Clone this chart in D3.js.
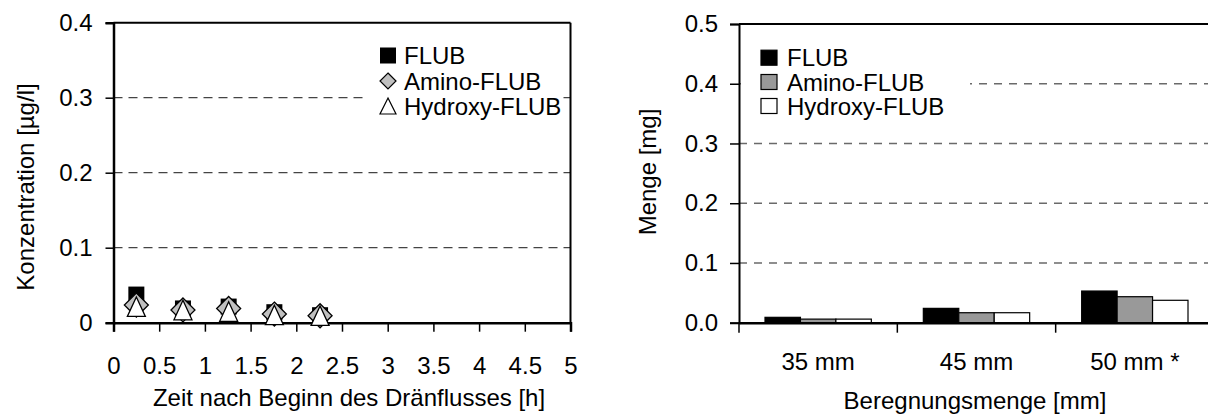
<!DOCTYPE html>
<html>
<head>
<meta charset="utf-8">
<script src="https://cdn.jsdelivr.net/npm/d3@7"></script>
<style>
  body { margin: 0; background: #fff; }
  svg { display: block; font-family: "Liberation Sans", Arial, sans-serif; }
  .axis text { font-size: 24px; fill: #000; }
  .axis path, .axis line { stroke: #000; }
</style>
</head>
<body>
<svg id="chart" width="1208" height="417"></svg>
<script>
// left chart: concentration over time
var timeHours = [0.25, 0.76, 1.26, 1.76, 2.26];
var flubConc = [0.0375, 0.019, 0.0215, 0.014, 0.010];
var aminoConc = [0.0235, 0.017, 0.019, 0.0115, 0.0093];
var hydroxyConc = [0.021, 0.0165, 0.0145, 0.010, 0.009];
var xTicksLeft = [0, 0.5, 1, 1.5, 2, 2.5, 3, 3.5, 4, 4.5, 5];
var yTicksLeft = [0, 0.1, 0.2, 0.3, 0.4];

// right chart: amounts per irrigation
var categories = ['35 mm', '45 mm', '50 mm *'];
var flubMenge = [0.009, 0.024, 0.053];
var aminoMenge = [0.006, 0.0167, 0.0435];
var hydroxyMenge = [0.006, 0.0167, 0.0375];
var yTicksRight = [0, 0.1, 0.2, 0.3, 0.4, 0.5];
var seriesNames = ['FLUB', 'Amino-FLUB', 'Hydroxy-FLUB'];

var svg = d3.select('#chart');

// ---------- left ----------
var xL = d3.scaleLinear().domain([0, 5]).range([113.5, 570.5]);
var yL = d3.scaleLinear().domain([0, 0.4]).range([322.7, 22.7]);

var gL = svg.append('g');

// grid
gL.selectAll('.gridL').data(yTicksLeft.filter(function (d) { return d > 0 && d < 0.4; }))
  .enter().append('line')
  .attr('x1', xL(0)).attr('x2', xL(5))
  .attr('y1', function (d) { return yL(d); }).attr('y2', function (d) { return yL(d); })
  .attr('stroke', '#444').attr('stroke-width', 1.3).attr('stroke-dasharray', '9,6');

// frame top / right
gL.append('line').attr('x1', xL(0)).attr('x2', xL(5)).attr('y1', yL(0.4)).attr('y2', yL(0.4))
  .attr('stroke', '#000').attr('stroke-width', 2);
gL.append('line').attr('x1', xL(5)).attr('x2', xL(5)).attr('y1', yL(0.4)).attr('y2', yL(0))
  .attr('stroke', '#000').attr('stroke-width', 2);

var axL = gL.append('g').attr('class', 'axis').attr('transform', 'translate(' + xL(0) + ',0)')
  .call(d3.axisLeft(yL).tickValues(yTicksLeft).tickSize(8).tickPadding(13).tickFormat(d3.format('')));
axL.select('.domain').attr('stroke-width', 2.5);
axL.selectAll('.tick line').attr('stroke-width', 1.5);

var axB = gL.append('g').attr('class', 'axis').attr('transform', 'translate(0,' + yL(0) + ')')
  .call(d3.axisBottom(xL).tickValues(xTicksLeft).tickSize(9).tickPadding(25).tickFormat(d3.format('')));
axB.select('.domain').attr('stroke-width', 2.5);
axB.selectAll('.tick line').attr('stroke-width', 1.5);

// markers
var pts = timeHours.map(function (t, i) {
  return { t: t, f: flubConc[i], a: aminoConc[i], h: hydroxyConc[i] };
});
var sq = 16, dia = 12, tri = 10;
gL.selectAll('.flub').data(pts).enter().append('rect')
  .attr('x', function (d) { return xL(d.t) - sq / 2; })
  .attr('y', function (d) { return yL(d.f) - sq / 2; })
  .attr('width', sq).attr('height', sq).attr('fill', '#000');
gL.selectAll('.amino').data(pts).enter().append('path')
  .attr('d', function (d) {
    var x = xL(d.t), y = yL(d.a);
    return 'M' + x + ',' + (y - dia) + 'L' + (x + dia) + ',' + y + 'L' + x + ',' + (y + dia) + 'L' + (x - dia) + ',' + y + 'Z';
  })
  .attr('fill', '#c0c0c0').attr('stroke', '#000').attr('stroke-width', 1.3);
gL.selectAll('.hydroxy').data(pts).enter().append('path')
  .attr('d', function (d) {
    var x = xL(d.t), y = yL(d.h);
    return 'M' + x + ',' + (y - tri) + 'L' + (x + 9) + ',' + (y + 9.5) + 'L' + (x - 9) + ',' + (y + 9.5) + 'Z';
  })
  .attr('fill', '#fff').attr('stroke', '#000').attr('stroke-width', 1.3);

// legend
var legL = gL.append('g');
legL.append('rect').attr('x', 368).attr('y', 38).attr('width', 194).attr('height', 82).attr('fill', '#fff');
var rowsL = [55.5, 81, 106];
legL.append('rect').attr('x', 380).attr('y', rowsL[0] - 8).attr('width', 16).attr('height', 16).attr('fill', '#000');
legL.append('path').attr('d', 'M388,' + (rowsL[1] - 8) + 'L396,' + rowsL[1] + 'L388,' + (rowsL[1] + 8) + 'L380,' + rowsL[1] + 'Z')
  .attr('fill', '#c0c0c0').attr('stroke', '#000').attr('stroke-width', 1.2);
legL.append('path').attr('d', 'M388,' + (rowsL[2] - 8) + 'L396,' + (rowsL[2] + 8) + 'L380,' + (rowsL[2] + 8) + 'Z')
  .attr('fill', '#fff').attr('stroke', '#000').attr('stroke-width', 1.2);
legL.selectAll('text').data(seriesNames).enter().append('text')
  .attr('x', 404).attr('y', function (d, i) { return rowsL[i]; }).attr('dy', '0.36em')
  .attr('font-size', 24).text(function (d) { return d; });

// titles
svg.append('text').attr('transform', 'translate(25,187) rotate(-90)')
  .attr('text-anchor', 'middle').attr('dy', '0.36em').attr('font-size', 24)
  .text('Konzentration [µg/l]');
svg.append('text').attr('x', 349).attr('y', 406).attr('text-anchor', 'middle').attr('font-size', 24)
  .text('Zeit nach Beginn des Dränflusses [h]');

// ---------- right ----------
var xR = d3.scaleBand().domain(categories).range([739, 1214]);
var xSub = d3.scaleBand().domain(seriesNames).range([26, xR.bandwidth() - 26]);
var yR = d3.scaleLinear().domain([0, 0.5]).range([322.7, 24]);

var gR = svg.append('g');
gR.selectAll('.gridR').data(yTicksRight.filter(function (d) { return d > 0 && d < 0.5; }))
  .enter().append('line')
  .attr('x1', 739).attr('x2', 1214)
  .attr('y1', function (d) { return yR(d); }).attr('y2', function (d) { return yR(d); })
  .attr('stroke', '#6a6a6a').attr('stroke-width', 1.5).attr('stroke-dasharray', '8,7');
gR.append('line').attr('x1', 739).attr('x2', 1214).attr('y1', yR(0.5)).attr('y2', yR(0.5))
  .attr('stroke', '#000').attr('stroke-width', 2);

var barRows = categories.map(function (c, i) {
  return { cat: c, vals: [flubMenge[i], aminoMenge[i], hydroxyMenge[i]] };
});
var fills = ['#000', '#999', '#fff'];
gR.selectAll('.grp').data(barRows).enter().append('g')
  .attr('transform', function (d) { return 'translate(' + xR(d.cat) + ',0)'; })
  .selectAll('rect').data(function (d) { return d.vals.map(function (v, j) { return { s: seriesNames[j], v: v, j: j }; }); })
  .enter().append('rect')
  .attr('x', function (d) { return xSub(d.s); })
  .attr('y', function (d) { return yR(d.v); })
  .attr('width', xSub.bandwidth())
  .attr('height', function (d) { return yR(0) - yR(d.v); })
  .attr('fill', function (d) { return fills[d.j]; })
  .attr('stroke', '#000').attr('stroke-width', 1.2);

var axR = gR.append('g').attr('class', 'axis').attr('transform', 'translate(739,0)')
  .call(d3.axisLeft(yR).tickValues(yTicksRight).tickSize(9).tickPadding(12).tickFormat(d3.format('.1f')));
axR.select('.domain').attr('stroke-width', 2);
axR.selectAll('.tick line').attr('stroke-width', 1.5);

var axRB = gR.append('g').attr('class', 'axis').attr('transform', 'translate(0,' + yR(0) + ')')
  .call(d3.axisBottom(xR).tickSize(0).tickPadding(30));
axRB.select('.domain').attr('stroke-width', 2.5);
// category separators
axRB.selectAll('.sep').data(categories).enter().append('line')
  .attr('x1', function (d) { return xR(d); }).attr('x2', function (d) { return xR(d); })
  .attr('y1', 0).attr('y2', 10).attr('stroke', '#000').attr('stroke-width', 1.5);

// legend
var legR = gR.append('g');
legR.append('rect').attr('x', 741).attr('y', 38).attr('width', 229).attr('height', 82).attr('fill', '#fff');
var rowsR = [57.7, 82, 106];
legR.selectAll('rect.sw').data(seriesNames).enter().append('rect').attr('class', 'sw')
  .attr('x', 761).attr('y', function (d, i) { return rowsR[i] - 7.5; })
  .attr('width', 16).attr('height', 15)
  .attr('fill', function (d, i) { return fills[i]; }).attr('stroke', '#000').attr('stroke-width', 1.2);
legR.selectAll('text').data(seriesNames).enter().append('text')
  .attr('x', 787).attr('y', function (d, i) { return rowsR[i]; }).attr('dy', '0.36em')
  .attr('font-size', 24).text(function (d) { return d; });

svg.append('text').attr('transform', 'translate(647,172) rotate(-90)')
  .attr('text-anchor', 'middle').attr('dy', '0.36em').attr('font-size', 24)
  .text('Menge [mg]');
svg.append('text').attr('x', 975).attr('y', 409).attr('text-anchor', 'middle').attr('font-size', 24)
  .text('Beregnungsmenge [mm]');
</script>
</body>
</html>
